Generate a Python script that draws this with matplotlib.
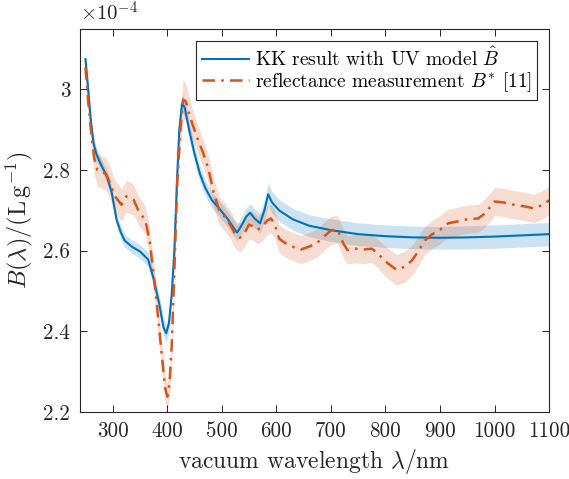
import numpy as np
import matplotlib
matplotlib.use("Agg")
from matplotlib import pyplot as plt

# KK result with UV model (values in units of 1e-4)
wl_kk = [250, 255, 260, 265, 270, 277, 289, 298, 307, 315, 322, 335, 350, 365, 375,
         385, 393, 398, 403, 408, 413, 418, 422, 427, 432, 440, 450, 460, 470, 482,
         495, 510, 520, 528, 535, 545, 552, 560, 570, 578, 585, 592, 605, 630, 660,
         700, 750, 800, 850, 900, 950, 1000, 1050, 1100]
b_kk = [3.075, 3.0, 2.92, 2.865, 2.84, 2.818, 2.785, 2.745, 2.677, 2.645, 2.625, 2.61, 2.598, 2.578, 2.53,
        2.47, 2.41, 2.395, 2.42, 2.49, 2.60, 2.78, 2.90, 2.965, 2.955, 2.90, 2.84, 2.79, 2.755, 2.725,
        2.705, 2.68, 2.66, 2.645, 2.66, 2.685, 2.694, 2.68, 2.668, 2.70, 2.74, 2.72, 2.70, 2.678, 2.662,
        2.651, 2.641, 2.636, 2.633, 2.632, 2.633, 2.635, 2.638, 2.641]
err_kk = [0.022, 0.021, 0.02, 0.018, 0.017, 0.016, 0.015, 0.015, 0.015, 0.016, 0.016, 0.017, 0.017, 0.018, 0.019,
          0.02, 0.022, 0.023, 0.023, 0.022, 0.022, 0.022, 0.022, 0.022, 0.022, 0.021, 0.02, 0.02, 0.02, 0.02,
          0.02, 0.02, 0.02, 0.02, 0.021, 0.022, 0.023, 0.024, 0.025, 0.026, 0.027, 0.027, 0.027, 0.027, 0.027,
          0.028, 0.028, 0.028, 0.028, 0.028, 0.029, 0.029, 0.029, 0.029]

# reflectance measurement B* [11]
wl_ref = [250, 255, 260, 266, 272, 280, 288, 295, 304, 316, 325, 338, 347, 360,
          368, 375, 382, 390, 396, 400, 404, 408, 413, 418, 424, 429, 434, 440, 447,
          455, 465, 475, 485, 495, 505, 515, 525, 533, 540, 550, 558, 565, 575, 583,
          590, 597, 605, 615, 630, 645, 660, 675, 688, 700, 712, 722, 730, 745, 760,
          775, 785, 795, 805, 820, 835, 848, 860, 872, 885, 900, 915, 930, 950, 970,
          980, 990, 1000, 1015, 1035, 1055, 1072, 1085, 1095, 1100]
b_ref = [3.055, 2.97, 2.90, 2.83, 2.80, 2.795, 2.79, 2.768, 2.735, 2.714, 2.735, 2.727, 2.70, 2.675,
         2.62, 2.54, 2.45, 2.34, 2.26, 2.238, 2.27, 2.36, 2.55, 2.76, 2.90, 2.975, 2.97, 2.94, 2.91,
         2.88, 2.845, 2.805, 2.745, 2.70, 2.685, 2.665, 2.64, 2.632, 2.64, 2.665, 2.66, 2.652, 2.66, 2.675,
         2.68, 2.665, 2.63, 2.62, 2.61, 2.603, 2.61, 2.62, 2.636, 2.65, 2.653, 2.62, 2.602, 2.605, 2.603,
         2.605, 2.595, 2.58, 2.568, 2.553, 2.56, 2.575, 2.598, 2.625, 2.64, 2.652, 2.668, 2.672, 2.678, 2.68,
         2.69, 2.705, 2.722, 2.72, 2.714, 2.71, 2.705, 2.712, 2.72, 2.725]
err_ref = [0.03, 0.03, 0.035, 0.04, 0.04, 0.04, 0.04, 0.04, 0.04, 0.04, 0.04, 0.038, 0.036, 0.035,
           0.035, 0.035, 0.035, 0.035, 0.035, 0.035, 0.035, 0.035, 0.035, 0.035, 0.04, 0.05, 0.045, 0.04, 0.038,
           0.035, 0.035, 0.035, 0.035, 0.035, 0.035, 0.035, 0.035, 0.035, 0.035, 0.035, 0.035, 0.035, 0.035, 0.035,
           0.035, 0.035, 0.035, 0.035, 0.035, 0.035, 0.035, 0.035, 0.035, 0.035, 0.035, 0.035, 0.035, 0.035, 0.035,
           0.035, 0.035, 0.037, 0.038, 0.038, 0.038, 0.037, 0.036, 0.035, 0.035, 0.035, 0.035, 0.035, 0.035, 0.035,
           0.035, 0.035, 0.035, 0.035, 0.035, 0.035, 0.035, 0.035, 0.035, 0.035]

xticks = [300, 400, 500, 600, 700, 800, 900, 1000, 1100]
yticks = [2.2, 2.4, 2.6, 2.8, 3.0]
ytick_labels = ["2.2", "2.4", "2.6", "2.8", "3"]

plt.rcParams["font.family"] = "serif"
plt.rcParams["font.serif"] = ["cmr10"]
plt.rcParams["mathtext.fontset"] = "cm"
plt.rcParams["axes.formatter.use_mathtext"] = True

blue = "#0072BD"
orange = "#D95319"
dark = "#262626"

fig = plt.figure(figsize=(5.69, 4.79), dpi=100)
ax = fig.add_axes([0.1406, 0.14, 0.8244, 0.7995])

wk = np.array(wl_kk)
bk = np.array(b_kk)
ek = np.array(err_kk)
wr = np.array(wl_ref)
br = np.array(b_ref)
er = np.array(err_ref)

ax.fill_between(wk, bk - ek, bk + ek, color=blue, alpha=0.2, lw=0)
ax.fill_between(wr, br - er, br + er, color=orange, alpha=0.2, lw=0)
ax.plot(wk, bk, color=blue, lw=1.5, label=r"KK result with UV model $\hat{B}$")
ax.plot(wr, br, color=orange, lw=1.8, linestyle=(0, (5, 2.5, 1, 2.5)),
        label=r"reflectance measurement $B^{*}$ [11]")

ax.set_xlim(240, 1100)
ax.set_ylim(2.2, 3.15)
ax.set_xticks(xticks)
ax.set_xticklabels([str(t) for t in xticks])
ax.set_yticks(yticks)
ax.set_yticklabels(ytick_labels)
ax.tick_params(direction="in", top=True, right=True, labelsize=15.2, colors=dark,
               length=5, width=0.7, pad=7)
for s in ax.spines.values():
    s.set_color(dark)
    s.set_linewidth(0.8)

ax.set_xlabel(r"vacuum wavelength $\lambda/\mathrm{nm}$", fontsize=17, color=dark, labelpad=4)
ax.set_ylabel(r"$B(\lambda)/(\mathrm{L\,g^{-1}})$", fontsize=17.5, color=dark, labelpad=6)
ax.text(0.0, 1.01, r"$\times 10^{-4}$", transform=ax.transAxes, fontsize=15,
        color=dark, va="bottom", ha="left")

leg = ax.legend(loc="upper right", fontsize=14, fancybox=False, framealpha=1,
                edgecolor=dark, handlelength=2.4, handletextpad=0.3,
                labelspacing=0.0, borderpad=0.3, borderaxespad=0.6,
                bbox_to_anchor=(1.0, 1.0))
leg.get_frame().set_linewidth(0.8)

fig.savefig("out.png", dpi=100)
